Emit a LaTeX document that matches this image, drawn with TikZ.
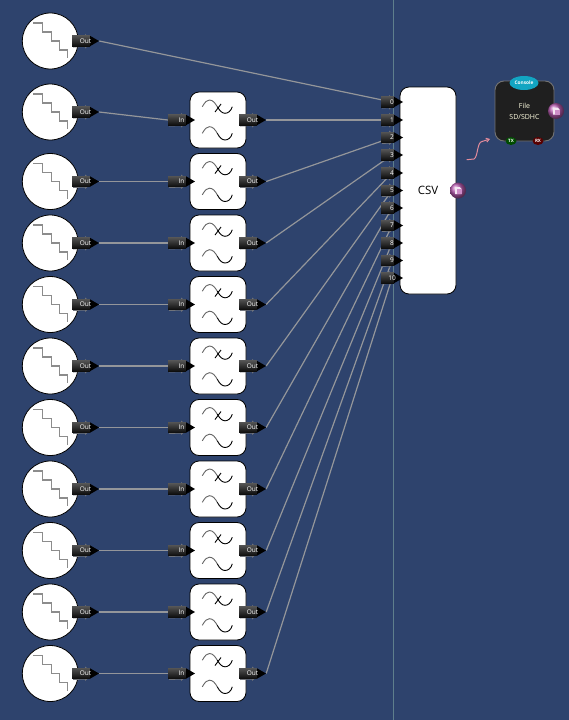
\documentclass[tikz,border=0pt]{standalone}
\usepackage{fontspec}
\setmainfont{Open Sans}
\usetikzlibrary{arrows.meta,shapes.geometric}
\pgfdeclarelayer{base}
\pgfdeclarelayer{conn}
\pgfsetlayers{base,conn,main}
\definecolor{bgblue}{HTML}{2E436D}
\definecolor{wire}{HTML}{94969A}
\definecolor{guide}{HTML}{5F7F8C}
\definecolor{halo}{HTML}{70737A}
\definecolor{pink}{HTML}{E48C9C}
\definecolor{ballpurple}{HTML}{B85CB0}
\definecolor{consolecyan}{HTML}{12A5C2}
\tikzset{
  x=1pt,y=-1pt,
  wireline/.style={draw=wire,line width=1.2pt},
  srcnode/.style={circle,draw=black,fill=white,line width=0.8pt,minimum size=56pt,inner sep=0pt},
  fltnode/.style={rectangle,rounded corners=9pt,draw=black,fill=white,line width=0.8pt,minimum width=56pt,minimum height=56pt,inner sep=0pt},
  pinlabel/.style={rectangle,inner sep=0pt,minimum height=11pt,text=white,font=\fontsize{6.5}{7}\selectfont},
  stairline/.style={draw=gray!90,line width=1.4pt},
  ballnode/.style={circle,ball color=ballpurple,minimum size=16pt,inner sep=0pt,shading=ball},
}
\newcommand{\pinshape}[5]{% name, cx, cy, half width, text
  \begin{scope}[shift={(#2,#3)}]
    \fill[halo] (#4-14,-7) -- (#4-5,0) -- (#4-14,7.5) -- (#4-14,6) -- (-#4+1,6.5) -- (-#4+1,5) -- (#4-14,-5) -- cycle;
    \fill[top color=black!68,bottom color=black!95] (-#4,-5.2) rectangle (#4-9,5.2);
    \fill[black] (#4-9,-5.2) -- (#4,0) -- (#4-9,5.2) -- cycle;
  \end{scope}
  \node[pinlabel,minimum width=#4*2 pt] (#1) at (#2,#3) {#5};
}
\newcommand{\stairs}[1]{%
  \draw[stairline,shift={(#1.center)}] (-17,-18) -- (-8,-18) -- (-8,-9) -- (1,-9) -- (1,0) -- (9,0) -- (9,9) -- (17,9) -- (17,17);
}
\newcommand{\waves}[1]{%
  \begin{scope}[shift={(#1.center)},line width=0.9pt]
    \draw[black!60] (-15.7,-13.3) .. controls (-13,-18) and (-11,-20) .. (-8.7,-20) .. controls (-5,-20) and (-3,-17) .. (-0.7,-13.3);
    \draw[black] (-0.7,-13.3) .. controls (1.5,-9.5) and (4,-6.7) .. (7,-6.7) .. controls (10,-6.7) and (13,-9) .. (14.3,-13.3);
    \draw[black] (-3,-8) -- (3,-16);
    \draw[black!60] (-15.7,13.3) .. controls (-13,8.5) and (-11,6.7) .. (-8.7,6.7) .. controls (-5,6.7) and (-3,9.5) .. (-0.7,13.3);
    \draw[black] (-0.7,13.3) .. controls (1.5,17.5) and (4,20) .. (7,20) .. controls (10,20) and (13,18) .. (14.3,13.3);
  \end{scope}
}
\newcommand{\docicon}[1]{%
  \begin{scope}[shift={(#1.center)}]
    \fill[white!85!ballpurple] (-3,3.5) -- (-3,-3.5) -- (1.5,-3.5) -- (3.5,-1.5) -- (3.5,3.5) -- cycle;
    \fill[ballpurple!70!white] (-1.5,3.5) -- (-1.5,-1.5) -- (3.5,-1.5) -- (3.5,3.5) -- cycle;
  \end{scope}
}
\begin{document}
\begin{tikzpicture}
\useasboundingbox (0,0) rectangle (569,720);
\begin{pgfonlayer}{base}
  \fill[bgblue] (0,0) rectangle (569,720);
  \coordinate (guidetop) at (393,0);
  \coordinate (guidebot) at (393,720);
  \draw[guide,line width=0.5pt] (guidetop) -- (guidebot);
\end{pgfonlayer}

% CSV block
\node[fltnode,minimum height=207pt] (csv) at (428,190.5) {\fontsize{11.5}{13}\selectfont CSV};
\foreach \i/\py in {0/102,1/120,2/137.5,3/155,4/173,5/190.5,6/208,7/225.5,8/243,9/260.5,10/278}{
  \pinshape{csvp\i}{392}{\py}{11}{\i}
}
\node[ballnode] (csvout) at (458,190.5) {};
\docicon{csvout}

% first source
\node[srcnode] (src0) at (50.3,41) {};
\stairs{src0}
\pinshape{sout0}{85.5}{41}{13.5}{Out}
\begin{pgfonlayer}{conn}
  \draw[wireline] (sout0.east) -- (csvp0.center);
\end{pgfonlayer}

% source -> filter -> CSV rows
\foreach \i/\sy/\fy in {1/112/120,2/181.5/181.5,3/243/243,4/304.5/304.5,5/366/366,6/427.5/427.5,7/489/489,8/550.5/550.5,9/612/612,10/673.5/673.5}{
  \node[srcnode] (src\i) at (50.3,\sy) {};
  \stairs{src\i}
  \pinshape{sout\i}{85.5}{\sy}{13.5}{Out}
  \node[fltnode] (flt\i) at (218,\fy) {};
  \waves{flt\i}
  \pinshape{fin\i}{181.5}{\fy}{13.5}{In}
  \pinshape{fout\i}{252.5}{\fy}{13.5}{Out}
  \begin{pgfonlayer}{conn}
    \draw[wireline] (sout\i.east) -- (fin\i.west);
    \draw[wireline] (fout\i.east) -- (csvp\i.center);
  \end{pgfonlayer}
}

% File block
\node[rectangle,rounded corners=9pt,draw=black!55,fill=black!88,line width=0.9pt,minimum width=59pt,minimum height=60pt,inner sep=0pt,
      text=yellow!12!white,align=center,font=\fontsize{7}{11}\selectfont] (file) at (524.5,111) {File\\SD/SDHC};
\node[ellipse,fill=consolecyan,minimum width=29pt,minimum height=14pt,inner sep=0pt,text=white,font=\bfseries\fontsize{4.8}{5}\selectfont] (console) at (524,83) {Console};
\node[ellipse,fill=green!30!black,minimum width=11pt,minimum height=8pt,inner sep=0pt,text=white,font=\bfseries\fontsize{4.5}{5}\selectfont] (tx) at (511,141) {TX};
\node[ellipse,fill=red!35!black,minimum width=11pt,minimum height=8pt,inner sep=0pt,text=white,font=\bfseries\fontsize{4.5}{5}\selectfont] (rx) at (538,141) {RX};
\node[ballnode] (fileout) at (556,111) {};
\docicon{fileout}

% pink squiggle
\coordinate (sqa) at (466.7,159.7);
\coordinate (sqb) at (490,139);
\draw[pink,line width=1pt,-{Straight Barb[length=3pt,width=4pt]}] (sqa) -- (474,159) .. controls (478,157) and (477,142) .. (482,141.5) -- (sqb);
\end{tikzpicture}
\end{document}
